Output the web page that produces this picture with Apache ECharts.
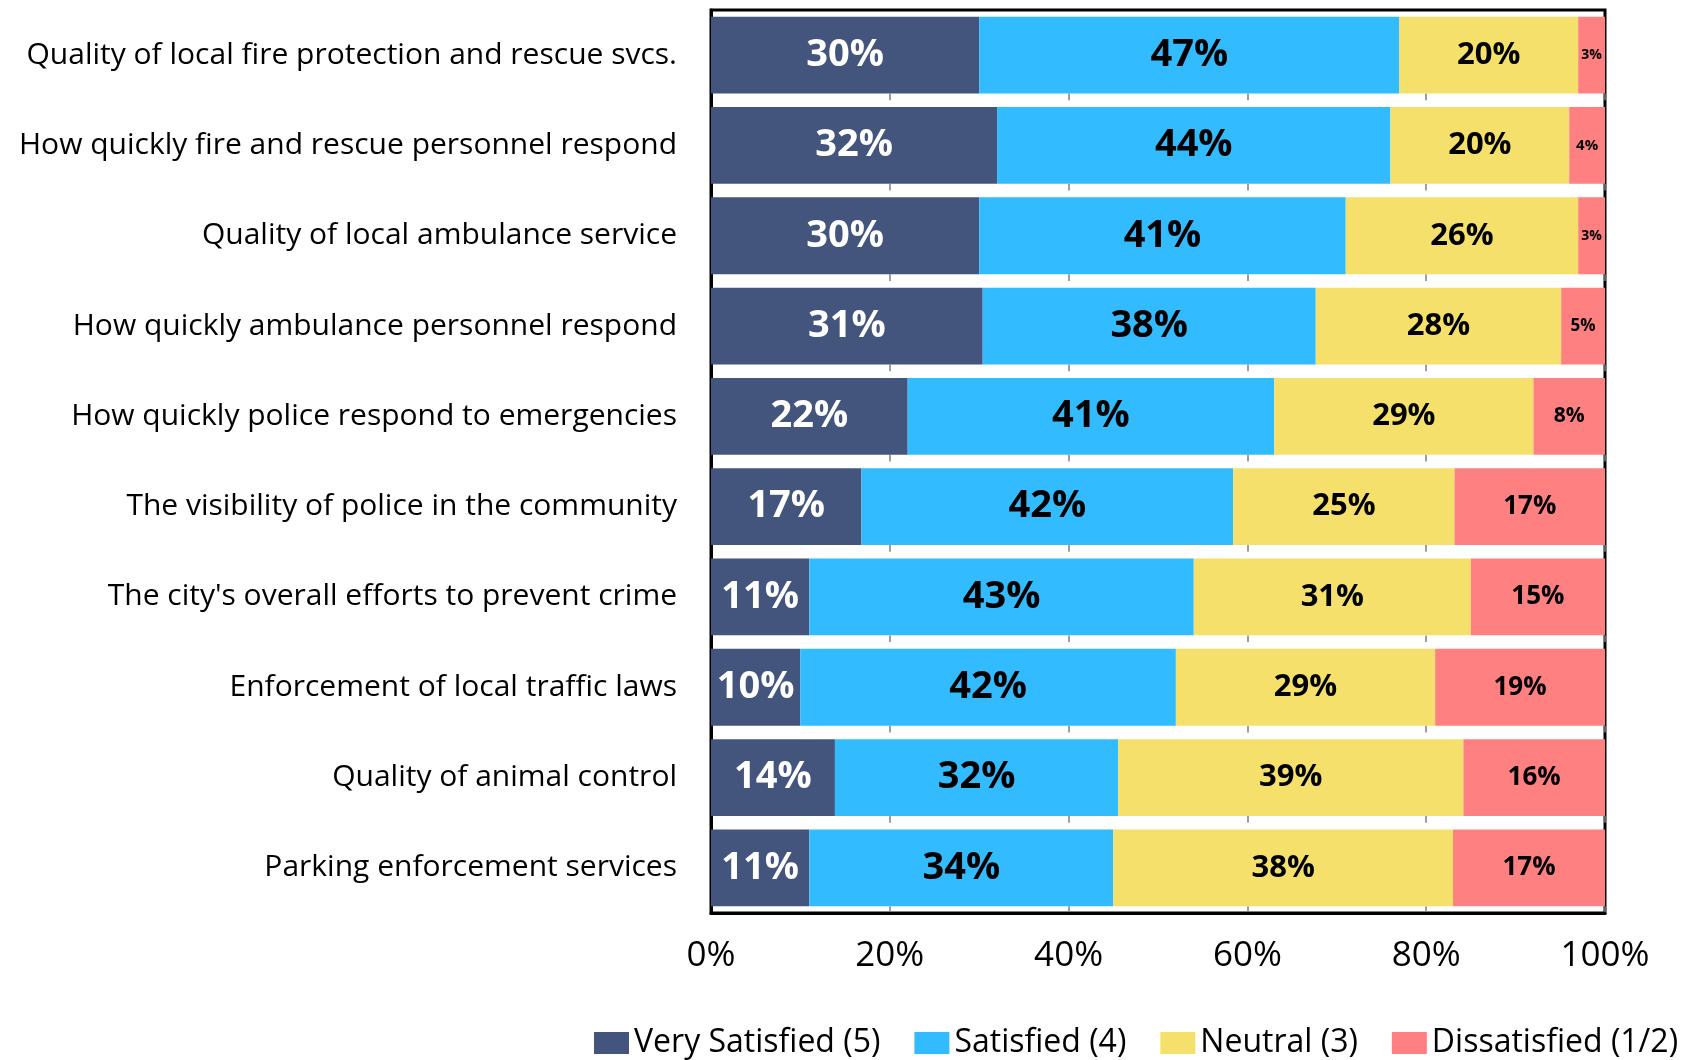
<!DOCTYPE html>
<html>
<head>
<meta charset="utf-8">
<title>Public safety satisfaction</title>
<script src="https://cdn.jsdelivr.net/npm/echarts@6/dist/echarts.min.js"></script>
<style>
  html, body { margin: 0; padding: 0; background: #fff; }
  #chart { width: 1691px; height: 1060px; }
</style>
</head>
<body>
<div id="chart"></div>
<script>
// survey rows, top to bottom
var categories = [
	"Quality of local fire protection and rescue svcs.",
	"How quickly fire and rescue personnel respond",
	"Quality of local ambulance service",
	"How quickly ambulance personnel respond",
	"How quickly police respond to emergencies",
	"The visibility of police in the community",
	"The city's overall efforts to prevent crime",
	"Enforcement of local traffic laws",
	"Quality of animal control",
	"Parking enforcement services"
];
var seriesNames = ["Very Satisfied (5)", "Satisfied (4)", "Neutral (3)", "Dissatisfied (1/2)"];
// percentages as printed on the bars
var verySatisfied = [30, 32, 30, 31, 22, 17, 11, 10, 14, 11];
var satisfied     = [47, 44, 41, 38, 41, 42, 43, 42, 32, 34];
var neutral       = [20, 20, 26, 28, 29, 25, 31, 29, 39, 38];
var dissatisfied  = [3, 4, 3, 5, 8, 17, 15, 19, 16, 17];
var xTicks = [0, 20, 40, 60, 80, 100];

var colors = ["#44557d", "#33bbff", "#f4e06b", "#ff8080"];
var font = "'Open Sans', sans-serif";

var rows = [verySatisfied, satisfied, neutral, dissatisfied];

// 100% stacked: each row is scaled to its own total
function share(arr, i) {
	var total = 0;
	for (var k = 0; k < rows.length; k++) total += rows[k][i];
	return arr[i] / total * 100;
}

// the thin red pieces get smaller labels
function redSize(v) {
	if (v < 4) return 14;
	if (v < 5) return 15;
	if (v < 6) return 17;
	if (v < 10) return 21;
	return 26;
}

var series = [];
for (var s = 0; s < rows.length; s++) {
	(function (s) {
		var arr = rows[s];
		var data = [];
		for (var i = 0; i < arr.length; i++) {
			var item = { value: share(arr, i) };
			if (s == 3) {
				item.label = { fontSize: redSize(arr[i]) };
			}
			data.push(item);
		}
		series.push({
			name: seriesNames[s],
			type: 'bar',
			stack: 'total',
			barCategoryGap: '15%',
			itemStyle: { color: colors[s] },
			label: {
				show: true,
				position: 'inside',
				fontFamily: font,
				fontWeight: 'bold',
				fontSize: s < 2 ? 38 : (s == 2 ? 31 : 26),
				color: s == 0 ? '#fff' : '#000',
				formatter: function (p) { return arr[p.dataIndex] + '%'; }
			},
			data: data
		});
	})(s);
}

var myChart = echarts.init(document.getElementById('chart'));
var option = {
	animation: false,
	textStyle: { fontFamily: font },
	legend: {
		data: seriesNames,
		left: 594,
		top: 1027,
		width: 1097,
		padding: 0,
		itemWidth: 35,
		itemHeight: 22,
		itemGap: 34,
		icon: 'rect',
		textStyle: { fontSize: 32, color: '#000', fontFamily: font }
	},
	grid: {
		left: 711,
		right: 86,
		top: 10,
		bottom: 147,
		show: true,
		borderColor: '#000',
		borderWidth: 3
	},
	xAxis: {
		type: 'value',
		min: xTicks[0],
		max: xTicks[xTicks.length - 1],
		interval: xTicks[1] - xTicks[0],
		axisLine: { show: true, lineStyle: { color: '#000', width: 3 } },
		axisTick: { show: false },
		axisLabel: {
			formatter: '{value}%',
			fontSize: 35,
			color: '#000',
			margin: 26,
			fontFamily: font
		},
		// gridlines only peek out in the gaps between bars
		splitLine: {
			show: true,
			lineStyle: { color: '#808080', width: 1.5, type: [0, 83.6, 6.7, 0] }
		}
	},
	yAxis: {
		type: 'category',
		inverse: true,
		data: categories,
		axisLine: { show: true, lineStyle: { color: '#000', width: 3 } },
		axisTick: { show: false },
		axisLabel: {
			interval: 0,
			fontSize: 30,
			color: '#000',
			margin: 34,
			fontFamily: font
		}
	},
	series: series
};
myChart.setOption(option);
</script>
</body>
</html>
